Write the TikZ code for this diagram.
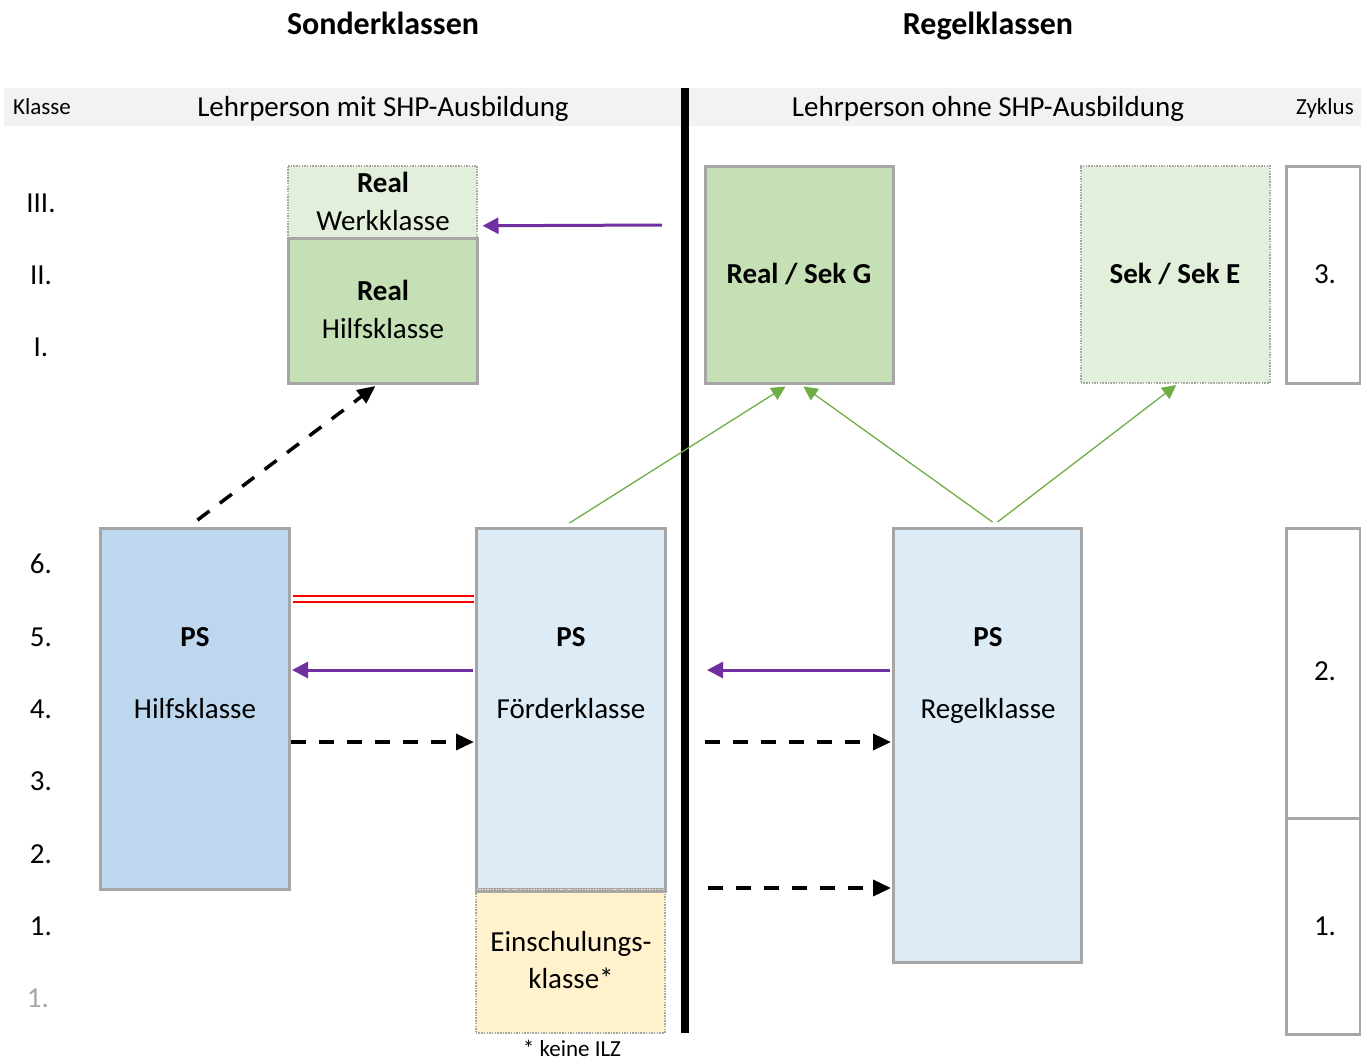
\documentclass[tikz,border=0pt]{standalone}
\usepackage{fontspec}
\setmainfont{Carlito}
\usetikzlibrary{arrows.meta,calc}
\definecolor{hdr}{HTML}{F2F2F2}
\definecolor{lgreen}{HTML}{E2EFDA}
\definecolor{mgreen}{HTML}{C5E0B4}
\definecolor{mblue}{HTML}{BDD7EE}
\definecolor{lblue}{HTML}{DDEBF7}
\definecolor{lyellow}{HTML}{FFF2CC}
\definecolor{bgray}{HTML}{A6A6A6}
\definecolor{purp}{HTML}{7030A0}
\definecolor{grn}{HTML}{70AD47}
\definecolor{redl}{HTML}{FF0000}
\begin{document}
\begin{tikzpicture}[x=1pt,y=-1pt,
 box/.style={draw=bgray, line width=3pt, inner sep=0pt, anchor=north west},
 dbox/.style={draw=bgray, line width=1.5pt, dash pattern=on 1.5pt off 1.2pt, inner sep=0pt, anchor=north west},
 txt/.style={font=\fontsize{29}{36}\selectfont, anchor=base, inner sep=0pt},
 btxt/.style={font=\fontsize{29}{36}\selectfont\bfseries, anchor=base, inner sep=0pt},
 ttl/.style={font=\fontsize{32}{38}\selectfont\bfseries, anchor=base, inner sep=0pt},
 smalltxt/.style={font=\fontsize{23}{28}\selectfont, anchor=base, inner sep=0pt},
 parrow/.style={draw=purp, line width=3pt, -{Triangle[length=16pt,width=16pt]}},
 darrow/.style={draw=black, line width=3.5pt, dash pattern=on 15pt off 13pt, -{Triangle[length=18pt,width=16pt]}},
 garrow/.style={draw=grn, line width=1.3pt, -{Triangle[length=14pt,width=14pt]}},
]
\useasboundingbox (0,0) rectangle (1361,1061);

% titles
\node[ttl] (t1) at (383,34) {Sonderklassen};
\node[ttl] (t2) at (988,34) {Regelklassen};

% header bar
\node[fill=hdr, inner sep=0pt, minimum width=1357pt, minimum height=38pt, anchor=north west] (bar) at (4,88) {};
\node[smalltxt] (hk) at (42,114) {Klasse};
\node[txt] (hl) at (383,116) {Lehrperson mit SHP-Ausbildung};
\node[txt] (hr) at (988,116) {Lehrperson ohne SHP-Ausbildung};
\node[smalltxt] (hz) at (1325,114) {Zyklus};

% separator
\draw[line width=8pt] (685,88) -- (685,1033);

% class numbers
\node[txt] (k3r) at (41,212) {III.};
\node[txt] (k2r) at (41,284) {II.};
\node[txt] (k1r) at (41,356) {I.};
\node[txt] (k6) at (41,573) {6.};
\node[txt] (k5) at (41,646) {5.};
\node[txt] (k4) at (41,718) {4.};
\node[txt] (k3) at (41,790) {3.};
\node[txt] (k2) at (41,863) {2.};
\node[txt] (k1) at (41,935) {1.};
\node[txt, text=bgray] (k0) at (38,1007) {1.};

% boxes
\node[dbox, fill=lgreen, minimum width=189pt, minimum height=72pt] (rwk) at (287,165) {};
\node[box, fill=mgreen, minimum width=189pt, minimum height=145pt] (rhk) at (287,237) {};
\node[box, fill=mgreen, minimum width=188pt, minimum height=217pt] (rsg) at (704,165) {};
\node[dbox, fill=lgreen, minimum width=189pt, minimum height=217pt] (sse) at (1080,165) {};
\node[box, fill=white, minimum width=74pt, minimum height=217pt] (z3) at (1285,165) {};

\node[box, fill=mblue, minimum width=189pt, minimum height=361pt] (phk) at (99,527) {};
\node[box, fill=lblue, minimum width=189pt, minimum height=361pt] (pfk) at (475,527) {};
\node[dbox, fill=lyellow, minimum width=189pt, minimum height=144pt] (esk) at (475,888) {};
\draw[bgray, line width=3pt] (pfk.south west) -- (pfk.south east);
\node[box, fill=lblue, minimum width=188pt, minimum height=434pt] (prk) at (892,527) {};
\node[box, fill=white, minimum width=74pt, minimum height=290pt] (z2) at (1285,527) {};
\node[box, fill=white, minimum width=74pt, minimum height=216pt] (z1) at (1285,817) {};

% box texts
\node[btxt] (rwk1) at (383,192) {Real};
\node[txt] (rwk2) at (383,230) {Werkklasse};
\node[btxt] (rhk1) at (383,300) {Real};
\node[txt] (rhk2) at (383,338) {Hilfsklasse};
\node[btxt] (rsgt) at (799,283) {Real / Sek G};
\node[btxt] (sset) at (1175,283) {Sek / Sek E};
\node[txt] (z3t) at (1325,283) {3.};
\node[btxt] (phk1) at (195,646) {PS};
\node[txt] (phk2) at (195,718) {Hilfsklasse};
\node[btxt] (pfk1) at (571,646) {PS};
\node[txt] (pfk2) at (571,718) {Förderklasse};
\node[txt] (esk1) at (571,951) {Einschulungs-};
\node[txt] (esk2) at (571,988) {klasse*};
\node[smalltxt] (ilz) at (572,1056) {* keine ILZ};
\node[btxt] (prk1) at (988,646) {PS};
\node[txt] (prk2) at (988,718) {Regelklasse};
\node[txt] (z2t) at (1325,680) {2.};
\node[txt] (z1t) at (1325,935) {1.};

% connectors
\coordinate (pw) at (662,225);
\draw[parrow] (pw) -- ($(rwk.east)+(5,24)$);

\draw[darrow] ($(phk.north)+(2.5,-7)$) -- ($(rhk.south)+(-7.5,1)$);

\draw[redl, line width=2.3pt] ($(phk.north east)+(1.5,69)$) -- ($(pfk.north west)+(-1.5,69)$);
\draw[redl, line width=2.3pt] ($(phk.north east)+(1.5,75)$) -- ($(pfk.north west)+(-1.5,75)$);

\draw[parrow] ($(pfk.north west)+(-2,143)$) -- ($(phk.north east)+(1,143)$);
\draw[darrow] ($(phk.north east)+(0,215)$) -- ($(pfk.north west)+(-1,215)$);

\coordinate (pr) at (707,670);
\draw[parrow] ($(prk.north west)+(-2,143)$) -- (pr);
\coordinate (dr1) at (705,742);
\draw[darrow] (dr1) -- ($(prk.north west)+(-1,215)$);
\coordinate (dr2) at (708,888);
\draw[darrow] (dr2) -- ($(prk.north west)+(-1,361)$);

\draw[garrow] ($(pfk.north)+(-1.5,-4)$) -- ($(rsg.south)+(-14,1.5)$);
\draw[garrow] ($(prk.north)+(5,-5)$) -- ($(rsg.south)+(4,1.5)$);
\draw[garrow] ($(prk.north)+(10,-5)$) -- ($(sse.south)+(1,1.5)$);
\end{tikzpicture}
\end{document}
